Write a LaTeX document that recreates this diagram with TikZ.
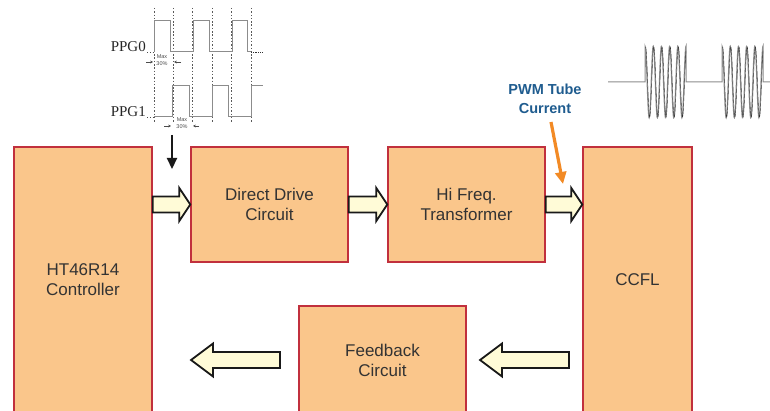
\documentclass[tikz,border=0pt]{standalone}
\usepackage{fontspec}
\setmainfont{Liberation Sans}
\newfontfamily\ppgfont{Liberation Serif}
\usetikzlibrary{arrows.meta,calc}
\definecolor{boxfill}{HTML}{FAC68B}
\definecolor{boxline}{HTML}{C1303D}
\definecolor{arrowfill}{HTML}{FFFBD7}
\definecolor{pwmblue}{HTML}{1F5C8F}
\definecolor{tubeorange}{HTML}{F28A25}
\definecolor{wavegray}{HTML}{8C8C8C}
\definecolor{textgray}{HTML}{333333}
\tikzset{
	block/.style={draw=boxline, fill=boxfill, line width=1.5pt, text=textgray, align=center, font=\fontsize{17}{20}\selectfont, inner sep=0pt},
	fatarrow/.style={draw=black!90, fill=arrowfill, line width=1.8pt, line join=miter, to path={let \p1=(\tikztostart), \p2=(\tikztotarget), \n1={sign(\x2-\x1)*#1} in (\x1,{\y1+8pt}) -- ({\x2-\n1*1pt},{\y1+8pt}) -- ({\x2-\n1*1pt},{\y1+16.5pt}) -- (\x2,\y2) -- ({\x2-\n1*1pt},{\y1-16.5pt}) -- ({\x2-\n1*1pt},{\y1-8pt}) -- (\x1,{\y1-8pt}) -- cycle}},
	fatarrow/.default=11,
	wave/.style={wavegray, line width=1pt},
	ppglabel/.style={font=\ppgfont\fontsize{15}{15}\selectfont, inner sep=0pt, text=black!85},
	maxlabel/.style={font=\fontsize{5.5}{6.5}\selectfont, align=center, inner sep=0pt, text=black!70},
	maxarrow/.style={line width=0.5pt, black!70, -{Stealth[length=2.8pt,width=2.8pt]}},
	sigarrow/.style={line width=2.2pt, black!90, -{Triangle[length=11pt,width=10pt]}},
	tubearrow/.style={line width=3.2pt, tubeorange, -{Triangle[length=12pt,width=11pt]}}
}
\begin{document}
\begin{tikzpicture}[x=1pt, y=-1pt]
	\useasboundingbox (0,0) rectangle (770,411);
	\clip (0,0) rectangle (770,411);
	\node[block, minimum width=138pt, minimum height=266pt] (ht) at (83,280) {HT46R14\\Controller};
	\node[block, minimum width=157pt, minimum height=115pt] (dd) at (269.5,204.5) {Direct Drive\\Circuit};
	\node[block, minimum width=157pt, minimum height=115pt] (hf) at (466.5,204.5) {Hi Freq.\\Transformer};
	\node[block, minimum width=109pt, minimum height=266pt] (ccfl) at (637.5,280) {CCFL};
	\node[block, minimum width=167pt, minimum height=108pt] (fb) at (382.5,360) {Feedback\\Circuit};
	\draw[fatarrow] (ht.east |- dd.west) to (dd.west);
	\draw[fatarrow] (dd.east) to (hf.west);
	\draw[fatarrow] (hf.east) to (ccfl.west |- hf.east);
	\coordinate (ccout) at (569,360);
	\coordinate (fbin) at (480,360);
	\coordinate (fbout) at (280,360);
	\coordinate (htin) at (191,360);
	\draw[fatarrow=22] (ccout) to (fbin);
	\draw[fatarrow=22] (fbout) to (htin);
	\node[font=\bfseries\fontsize{14.5}{19}\selectfont, text=pwmblue, align=center, inner sep=0pt] (pwm) at (545,99) {PWM Tube\\Current};
	\coordinate (tubeout) at (551,122);
	\coordinate (tubein) at (563,184);
	\draw[tubearrow] (tubeout) -- (tubein);
	\foreach \x in {154,173,192,212,231,251}
		\draw[black!65, line width=0.6pt, dash pattern=on 1.5pt off 1.8pt] (\x,8) -- (\x,122);
	\node[ppglabel, anchor=base east] (ppg0) at (146,52) {PPG0};
	\node[ppglabel, anchor=base east] (ppg1) at (146,117) {PPG1};
	\draw[black!70, line width=0.8pt, dotted] (147,52) -- (153,52);
	\draw[black!70, line width=0.8pt, dotted] (147,117) -- (153,117);
	\draw[wave] (154,52) -- (154,21) -- (170,21) -- (170,52) -- (193,52) -- (193,21) -- (209,21) -- (209,52) -- (232,52) -- (232,21) -- (247,21) -- (247,52) -- (251,52);
	\draw[black!80, line width=0.8pt, densely dotted] (251,52) -- (263,52);
	\draw[wave] (154,117) -- (172,117) -- (172,86) -- (189,86) -- (189,117) -- (212,117) -- (212,86) -- (228,86) -- (228,117) -- (251,117) -- (251,86) -- (263,86);
	\node[maxlabel] (max0) at (162,60) {Max\\30\%};
	\draw[maxarrow] (146,62) -- (153,62);
	\draw[maxarrow] (181,62) -- (174,62);
	\node[maxlabel] (max1) at (182,123) {Max\\30\%};
	\draw[maxarrow] (164,126) -- (171,126);
	\draw[maxarrow] (199,126) -- (193,126);
	\coordinate (ppgout) at (172,135);
	\coordinate (ddin) at (172,169);
	\draw[sigarrow] (ppgout) -- (ddin);
	\draw[wave] (608,82) -- (645,82) -- plot[domain=645:686, samples=160] (\x,{82-36*cos(360*(\x-645)/8.2)}) -- (686,82) -- (722,82) -- plot[domain=722:763, samples=160] (\x,{82-36*cos(360*(\x-722)/8.2)}) -- (763,82) -- (770,82);
	\draw[black!80, line width=0.4pt] plot[domain=645.6:686, samples=160] (\x,{82-35*cos(360*(\x-645.6)/8.2)});
	\draw[black!80, line width=0.4pt] plot[domain=722.6:763, samples=160] (\x,{82-35*cos(360*(\x-722.6)/8.2)});
\end{tikzpicture}
\end{document}
